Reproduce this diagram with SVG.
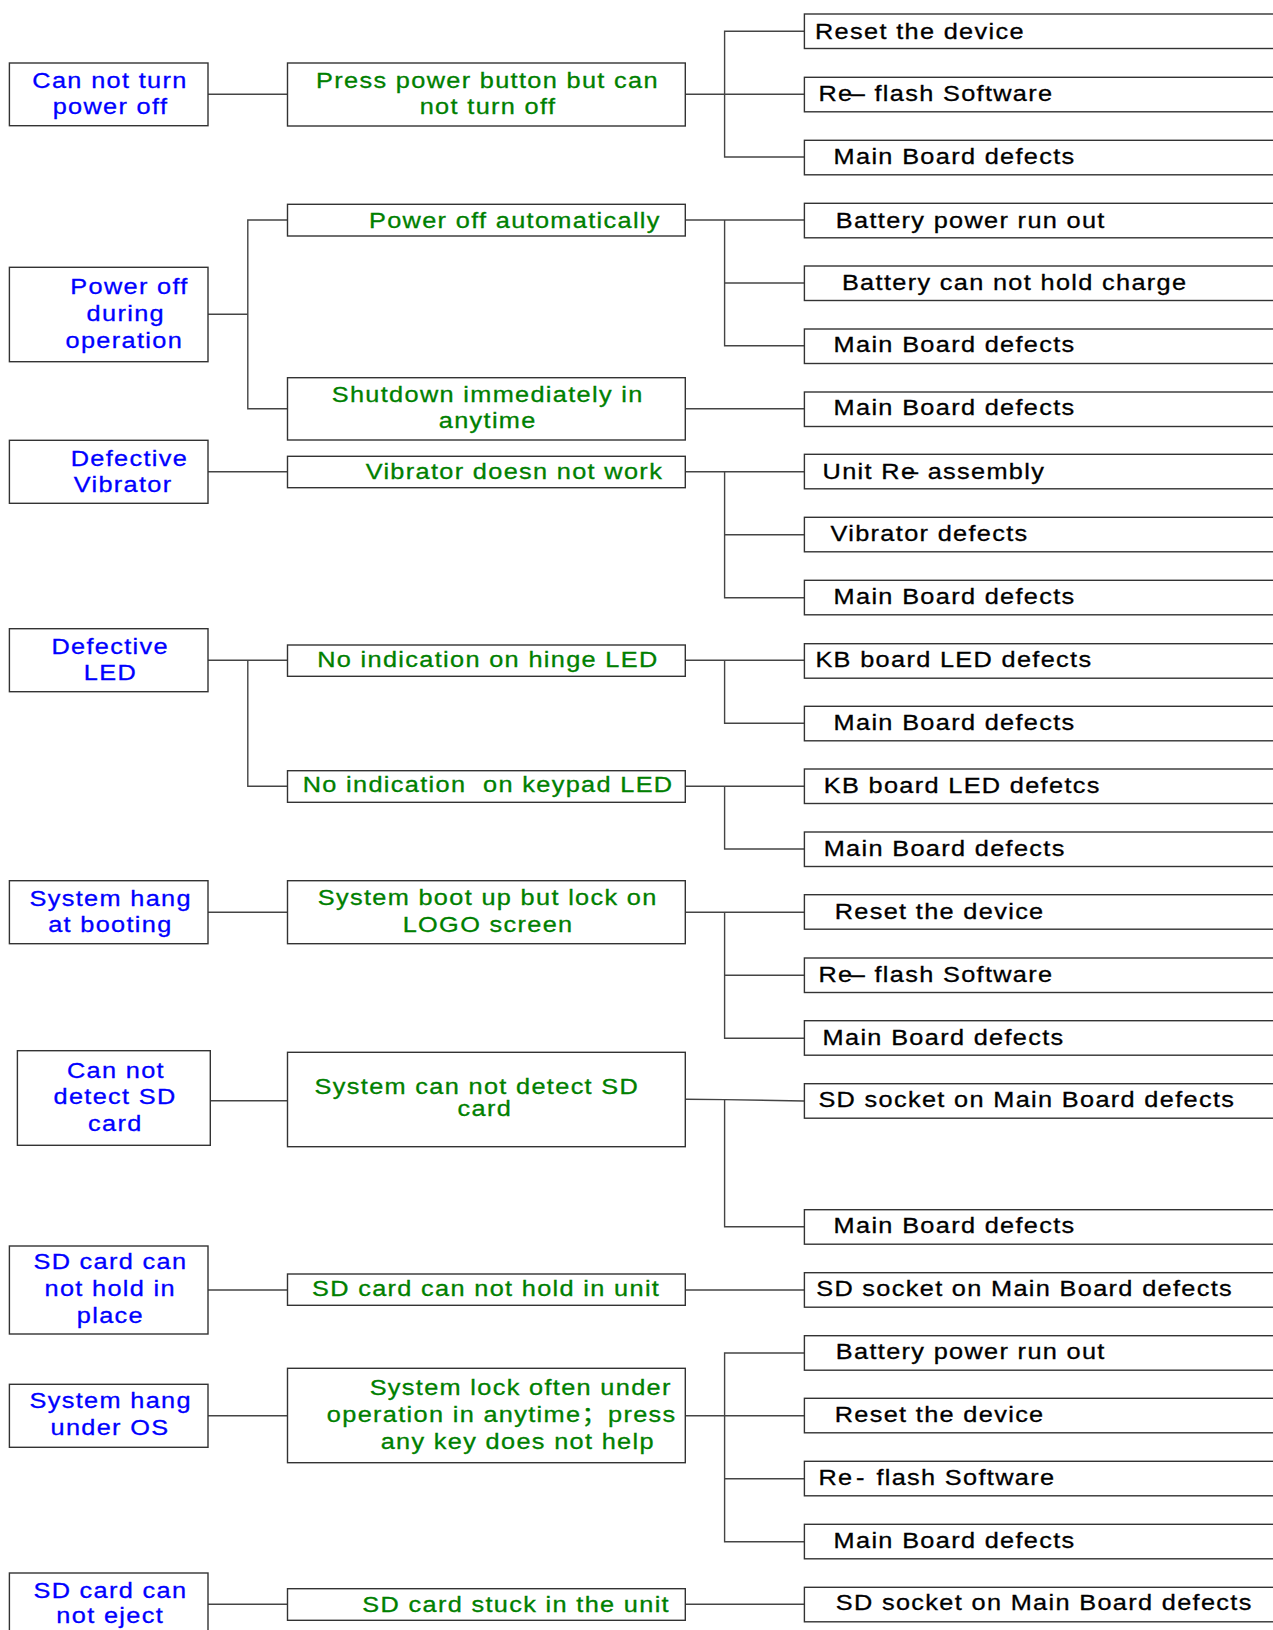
<svg xmlns="http://www.w3.org/2000/svg" width="1273" height="1630" viewBox="0 0 1273 1630">
<style>
text{font-family:"Liberation Sans",Arial,"Noto Sans CJK SC",sans-serif;font-size:22px;letter-spacing:1.17px;stroke-width:0.3px;transform:scaleX(1.15)}
.b{fill:#0000ff;stroke:#0000ff;text-anchor:middle}
.g{fill:#008000;stroke:#008000;text-anchor:middle}
.k{fill:#000;stroke:#000}
.n{fill:#fff;stroke:#333;stroke-width:1.4}
.c line,.c polyline{stroke:#444;stroke-width:1.4;fill:none}
</style>
<rect width="1273" height="1630" fill="#fff"/>
<g class="c" id="connectors">
<line x1="208" y1="94.3" x2="287.5" y2="94.3"/>
<line x1="685.3" y1="94.3" x2="804" y2="94.3"/>
<polyline points="804,31.3 724.6,31.3 724.6,157 804,157"/>
<line x1="208" y1="314.3" x2="247.8" y2="314.3"/>
<polyline points="287.5,220 247.8,220 247.8,408.7 287.5,408.7"/>
<line x1="685.3" y1="220" x2="804" y2="220"/>
<polyline points="724.6,220 724.6,345.7 804,345.7"/>
<line x1="724.6" y1="283" x2="804" y2="283"/>
<line x1="685.3" y1="408.7" x2="804" y2="408.7"/>
<line x1="208" y1="471.7" x2="287.5" y2="471.7"/>
<line x1="685.3" y1="471.7" x2="804" y2="471.7"/>
<polyline points="724.6,471.7 724.6,597.7 804,597.7"/>
<line x1="724.6" y1="534.7" x2="804" y2="534.7"/>
<line x1="208" y1="660.3" x2="287.5" y2="660.3"/>
<polyline points="247.8,660.3 247.8,786.3 287.5,786.3"/>
<line x1="685.3" y1="660.3" x2="804" y2="660.3"/>
<polyline points="724.6,660.3 724.6,723.3 804,723.3"/>
<line x1="685.3" y1="786.3" x2="804" y2="786.3"/>
<polyline points="724.6,786.3 724.6,849 804,849"/>
<line x1="208" y1="912.3" x2="287.5" y2="912.3"/>
<line x1="685.3" y1="912.3" x2="804" y2="912.3"/>
<polyline points="724.6,912.3 724.6,1038.3 804,1038.3"/>
<line x1="724.6" y1="975.3" x2="804" y2="975.3"/>
<line x1="210.3" y1="1100.7" x2="287.5" y2="1100.7"/>
<polyline points="685.3,1099.3 724.6,1099.6 804,1101"/>
<polyline points="724.6,1099.6 724.6,1226.7 804,1226.7"/>
<line x1="208" y1="1290" x2="287.5" y2="1290"/>
<line x1="685.3" y1="1290" x2="804" y2="1290"/>
<line x1="208" y1="1415.7" x2="287.5" y2="1415.7"/>
<line x1="685.3" y1="1415.7" x2="804" y2="1415.7"/>
<polyline points="804,1353 724.6,1353 724.6,1541.7 804,1541.7"/>
<line x1="724.6" y1="1478.7" x2="804" y2="1478.7"/>
<line x1="208" y1="1604.3" x2="287.5" y2="1604.3"/>
<line x1="685.3" y1="1604.3" x2="804" y2="1604.3"/>
</g>
<!-- Column 1 (text x values are in scaleX(1.15) local units) -->
<g id="p1"><rect class="n" x="9.4" y="63" width="198.6" height="62.7"/><text class="b" x="95.65" y="88.3">Can not turn</text><text class="b" x="96.09" y="114.3">power off</text></g>
<g id="p2"><rect class="n" x="9.4" y="267.3" width="198.6" height="94.4"/><text class="b" x="112.61" y="294">Power off</text><text class="b" x="109.39" y="321">during</text><text class="b" x="108.09" y="348">operation</text></g>
<g id="p3"><rect class="n" x="9.4" y="440.3" width="198.6" height="63"/><text class="b" x="112.52" y="465.7">Defective</text><text class="b" x="107.04" y="492.3">Vibrator</text></g>
<g id="p4"><rect class="n" x="9.4" y="628.7" width="198.6" height="63"/><text class="b" x="95.83" y="653.7">Defective</text><text class="b" x="96" y="679.7">LED</text></g>
<g id="p5"><rect class="n" x="9.4" y="880.7" width="198.6" height="63"/><text class="b" x="96.26" y="906">System hang</text><text class="b" x="96" y="932.3">at booting</text></g>
<g id="p6"><rect class="n" x="17.4" y="1050.7" width="192.9" height="94.6"/><text class="b" x="100.87" y="1077.7">Can not</text><text class="b" x="100.09" y="1104.3">detect SD</text><text class="b" x="100.26" y="1131">card</text></g>
<g id="p7"><rect class="n" x="9.4" y="1246" width="198.6" height="88"/><text class="b" x="96" y="1269.3">SD card can</text><text class="b" x="95.83" y="1296">not hold in</text><text class="b" x="96" y="1322.7">place</text></g>
<g id="p8"><rect class="n" x="9.4" y="1384.3" width="198.6" height="63"/><text class="b" x="96.26" y="1408.3">System hang</text><text class="b" x="95.65" y="1435">under OS</text></g>
<g id="p9"><rect class="n" x="9.4" y="1573" width="198.6" height="80"/><text class="b" x="96" y="1597.7">SD card can</text><text class="b" x="95.83" y="1623.3">not eject</text></g>
<!-- Column 2 -->
<g id="s1"><rect class="n" x="287.5" y="63" width="397.8" height="63"/><text class="g" x="423.91" y="87.7">Press power button but can</text><text class="g" x="424.35" y="114.3">not turn off</text></g>
<g id="s2"><rect class="n" x="287.5" y="204.3" width="397.8" height="31.7"/><text class="g" x="447.74" y="228.3">Power off automatically</text></g>
<g id="s3"><rect class="n" x="287.5" y="377.7" width="397.8" height="62.3"/><text class="g" x="424.09" y="401.7">Shutdown immediately in</text><text class="g" x="424.09" y="428.3">anytime</text></g>
<g id="s4"><rect class="n" x="287.5" y="456.3" width="397.8" height="31.4"/><text class="g" x="447.3" y="479.3">Vibrator doesn not work</text></g>
<g id="s5"><rect class="n" x="287.5" y="645" width="397.8" height="31.3"/><text class="g" x="424.26" y="667">No indication on hinge LED</text></g>
<g id="s6"><rect class="n" x="287.5" y="770.7" width="397.8" height="31.6"/><text class="g" x="424.43" y="792.3" xml:space="preserve">No indication  on keypad LED</text></g>
<g id="s7"><rect class="n" x="287.5" y="880.7" width="397.8" height="63"/><text class="g" x="424.09" y="905">System boot up but lock on</text><text class="g" x="424.43" y="932">LOGO screen</text></g>
<g id="s8"><rect class="n" x="287.5" y="1052.3" width="397.8" height="94.4"/><text class="g" x="414.7" y="1094">System can not detect SD</text><text class="g" x="421.57" y="1116">card</text></g>
<g id="s9"><rect class="n" x="287.5" y="1274" width="397.8" height="31.3"/><text class="g" x="422.7" y="1295.7">SD card can not hold in unit</text></g>
<g id="s10"><rect class="n" x="287.5" y="1368.3" width="397.8" height="94.4"/><text class="g" x="452.78" y="1395">System lock often under</text><text class="g" x="436.26" y="1422.3">operation in anytime；press</text><text class="g" x="450.26" y="1449">any key does not help</text></g>
<g id="s11"><rect class="n" x="287.5" y="1588.7" width="397.8" height="31.6"/><text class="g" x="448.87" y="1611.7">SD card stuck in the unit</text></g>
<!-- Column 3 -->
<g id="r0"><rect class="n" x="804.4" y="14" width="480" height="34.5"/><text class="k" x="708.7" y="39">Reset the device</text></g>
<g id="r1"><rect class="n" x="804.4" y="77.3" width="480" height="34.5"/><text class="k" x="711.65" y="100.7">Re<tspan dx="-2.4">–</tspan> flash Software</text></g>
<g id="r2"><rect class="n" x="804.4" y="140.3" width="480" height="34.5"/><text class="k" x="724.87" y="164">Main Board defects</text></g>
<g id="r3"><rect class="n" x="804.4" y="203.3" width="480" height="34.5"/><text class="k" x="726.78" y="227.7">Battery power run out</text></g>
<g id="r4"><rect class="n" x="804.4" y="266" width="480" height="34.5"/><text class="k" x="732.09" y="290">Battery can not hold charge</text></g>
<g id="r5"><rect class="n" x="804.4" y="329" width="480" height="34.5"/><text class="k" x="724.87" y="352">Main Board defects</text></g>
<g id="r6"><rect class="n" x="804.4" y="392" width="480" height="34.5"/><text class="k" x="724.87" y="415">Main Board defects</text></g>
<g id="r7"><rect class="n" x="804.4" y="454.3" width="480" height="34.5"/><text class="k" x="715.3" y="478.7">Unit Re<tspan dx="-10.8">–</tspan> assembly</text></g>
<g id="r8"><rect class="n" x="804.4" y="517.3" width="480" height="34.5"/><text class="k" x="722.17" y="541.3">Vibrator defects</text></g>
<g id="r9"><rect class="n" x="804.4" y="580.3" width="480" height="34.5"/><text class="k" x="724.87" y="604.3">Main Board defects</text></g>
<g id="r10"><rect class="n" x="804.4" y="643.7" width="480" height="34.5"/><text class="k" x="709.04" y="667.3">KB board LED defects</text></g>
<g id="r11"><rect class="n" x="804.4" y="706.3" width="480" height="34.5"/><text class="k" x="724.87" y="730.3">Main Board defects</text></g>
<g id="r12"><rect class="n" x="804.4" y="769" width="480" height="34.5"/><text class="k" x="716.26" y="792.7">KB board LED defetcs</text></g>
<g id="r13"><rect class="n" x="804.4" y="832" width="480" height="34.5"/><text class="k" x="716.26" y="855.7">Main Board defects</text></g>
<g id="r14"><rect class="n" x="804.4" y="894.7" width="480" height="34.5"/><text class="k" x="725.83" y="919.3">Reset the device</text></g>
<g id="r15"><rect class="n" x="804.4" y="958" width="480" height="34.5"/><text class="k" x="711.65" y="982">Re<tspan dx="-2.4">–</tspan> flash Software</text></g>
<g id="r16"><rect class="n" x="804.4" y="1020.7" width="480" height="34.5"/><text class="k" x="715.3" y="1045">Main Board defects</text></g>
<g id="r17"><rect class="n" x="804.4" y="1083.7" width="480" height="34.5"/><text class="k" x="711.65" y="1107.3">SD socket on Main Board defects</text></g>
<g id="r19"><rect class="n" x="804.4" y="1209.7" width="480" height="34.5"/><text class="k" x="724.87" y="1232.7">Main Board defects</text></g>
<g id="r20"><rect class="n" x="804.4" y="1272.7" width="480" height="34.5"/><text class="k" x="709.74" y="1295.7">SD socket on Main Board defects</text></g>
<g id="r21"><rect class="n" x="804.4" y="1335.7" width="480" height="34.5"/><text class="k" x="726.78" y="1359.3">Battery power run out</text></g>
<g id="r22"><rect class="n" x="804.4" y="1398.3" width="480" height="34.5"/><text class="k" x="725.83" y="1422.3">Reset the device</text></g>
<g id="r23"><rect class="n" x="804.4" y="1461.3" width="480" height="34.5"/><text class="k" x="711.65" y="1485">Re<tspan dx="2.2">-</tspan><tspan dx="2"> flash Software</tspan></text></g>
<g id="r24"><rect class="n" x="804.4" y="1524.3" width="480" height="34.5"/><text class="k" x="724.87" y="1547.7">Main Board defects</text></g>
<g id="r25"><rect class="n" x="804.4" y="1587.3" width="480" height="34.5"/><text class="k" x="726.78" y="1610">SD socket on Main Board defects</text></g>
</svg>
